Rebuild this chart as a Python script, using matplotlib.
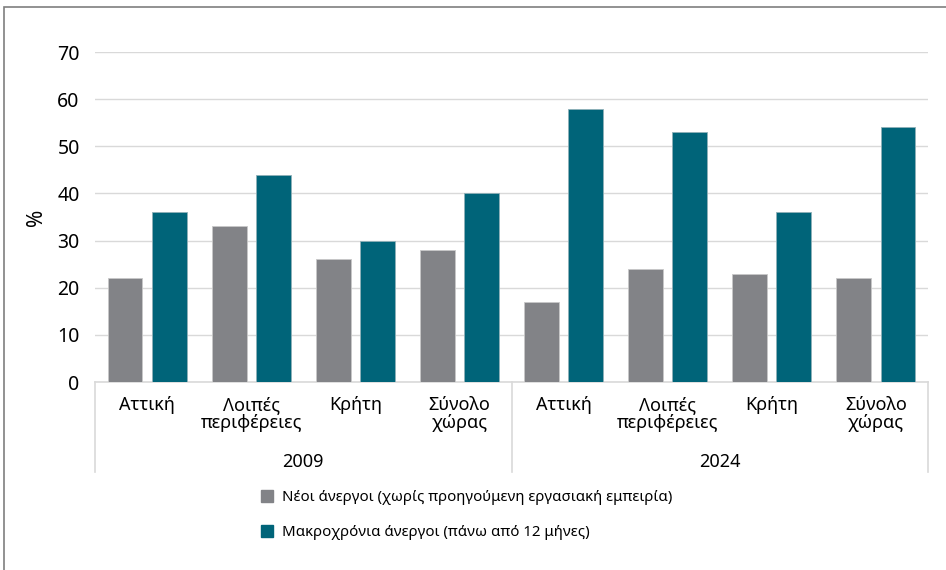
import numpy as np
import matplotlib.pyplot as plt
from matplotlib.patches import Rectangle, Patch

plt.rcParams['font.family'] = ['Noto Sans', 'DejaVu Sans']

years = ['2009', '2024']
regions = ['Αττική', 'Λοιπές\nπεριφέρειες', 'Κρήτη', 'Σύνολο\nχώρας']
new_unemp = [22, 33, 26, 28, 17, 24, 23, 22]     # Νέοι άνεργοι
long_unemp = [36, 44, 30, 40, 58, 53, 36, 54]    # Μακροχρόνια άνεργοι
series_names = ['Νέοι άνεργοι (χωρίς προηγούμενη εργασιακή εμπειρία)',
                'Μακροχρόνια άνεργοι (πάνω από 12 μήνες)']
GREY = '#828387'
TEAL = '#006479'

fig = plt.figure(figsize=(9.46, 5.70), dpi=100)
# outer frame (cut at right/bottom like the source image)
fig.patches.append(Rectangle((4/946, -0.1), 1.1, (570-7)/570 + 0.1, transform=fig.transFigure,
                             fill=False, ec='#7f7f7f', lw=1.2))

ax = fig.add_axes([95/946, (570-382)/570, 833/946, 330/570])
x = np.arange(len(new_unemp))
w = 0.335
off = 0.212
ax.bar(x - off, new_unemp, w, color=GREY, edgecolor='#c8c8c8', lw=0.6, zorder=3)
ax.bar(x + off, long_unemp, w, color=TEAL, edgecolor='#8fb0b8', lw=0.6, zorder=3)

ax.set_xlim(-0.5, len(x) - 0.5)
ax.set_ylim(0, 70)
ax.set_yticks(range(0, 71, 10))
ax.grid(axis='y', color='#d9d9d9', lw=1, zorder=0)
ax.tick_params(axis='y', length=0, labelsize=14, pad=11)
ax.tick_params(axis='x', length=0, labelbottom=False)
for s in ['top', 'right', 'left']:
    ax.spines[s].set_visible(False)
ax.spines['bottom'].set_color('#d9d9d9')
ax.spines['bottom'].set_linewidth(1.2)
ax.set_ylabel('%', fontsize=15)
ax.yaxis.set_label_coords(-0.058, 0.5)

# two-level category axis
tr = ax.get_xaxis_transform()
depth = -(472 - 382) / 330
for xv in [-0.5, 3.5, 7.5]:
    ax.plot([xv, xv], [0, depth], transform=tr, color='#d9d9d9', lw=1.2, clip_on=False)
for i in x:
    ax.text(i, -(396 - 382) / 330, regions[i % 4], transform=tr, ha='center', va='top',
            fontsize=13, linespacing=1.0)
for j, yr in enumerate(years):
    ax.text(1.5 + 4 * j, -(462 - 382) / 330, yr, transform=tr, ha='center', va='center',
            fontsize=13)

handles = [Patch(color=GREY), Patch(color=TEAL)]
fig.legend(handles, series_names, loc='upper left', bbox_to_anchor=(255/946, 1 - 484/570),
           frameon=False, fontsize=10.8, handlelength=0.8, handleheight=0.8,
           handletextpad=0.6, labelspacing=1.35, borderaxespad=0)

fig.savefig('out.png', dpi=100)
